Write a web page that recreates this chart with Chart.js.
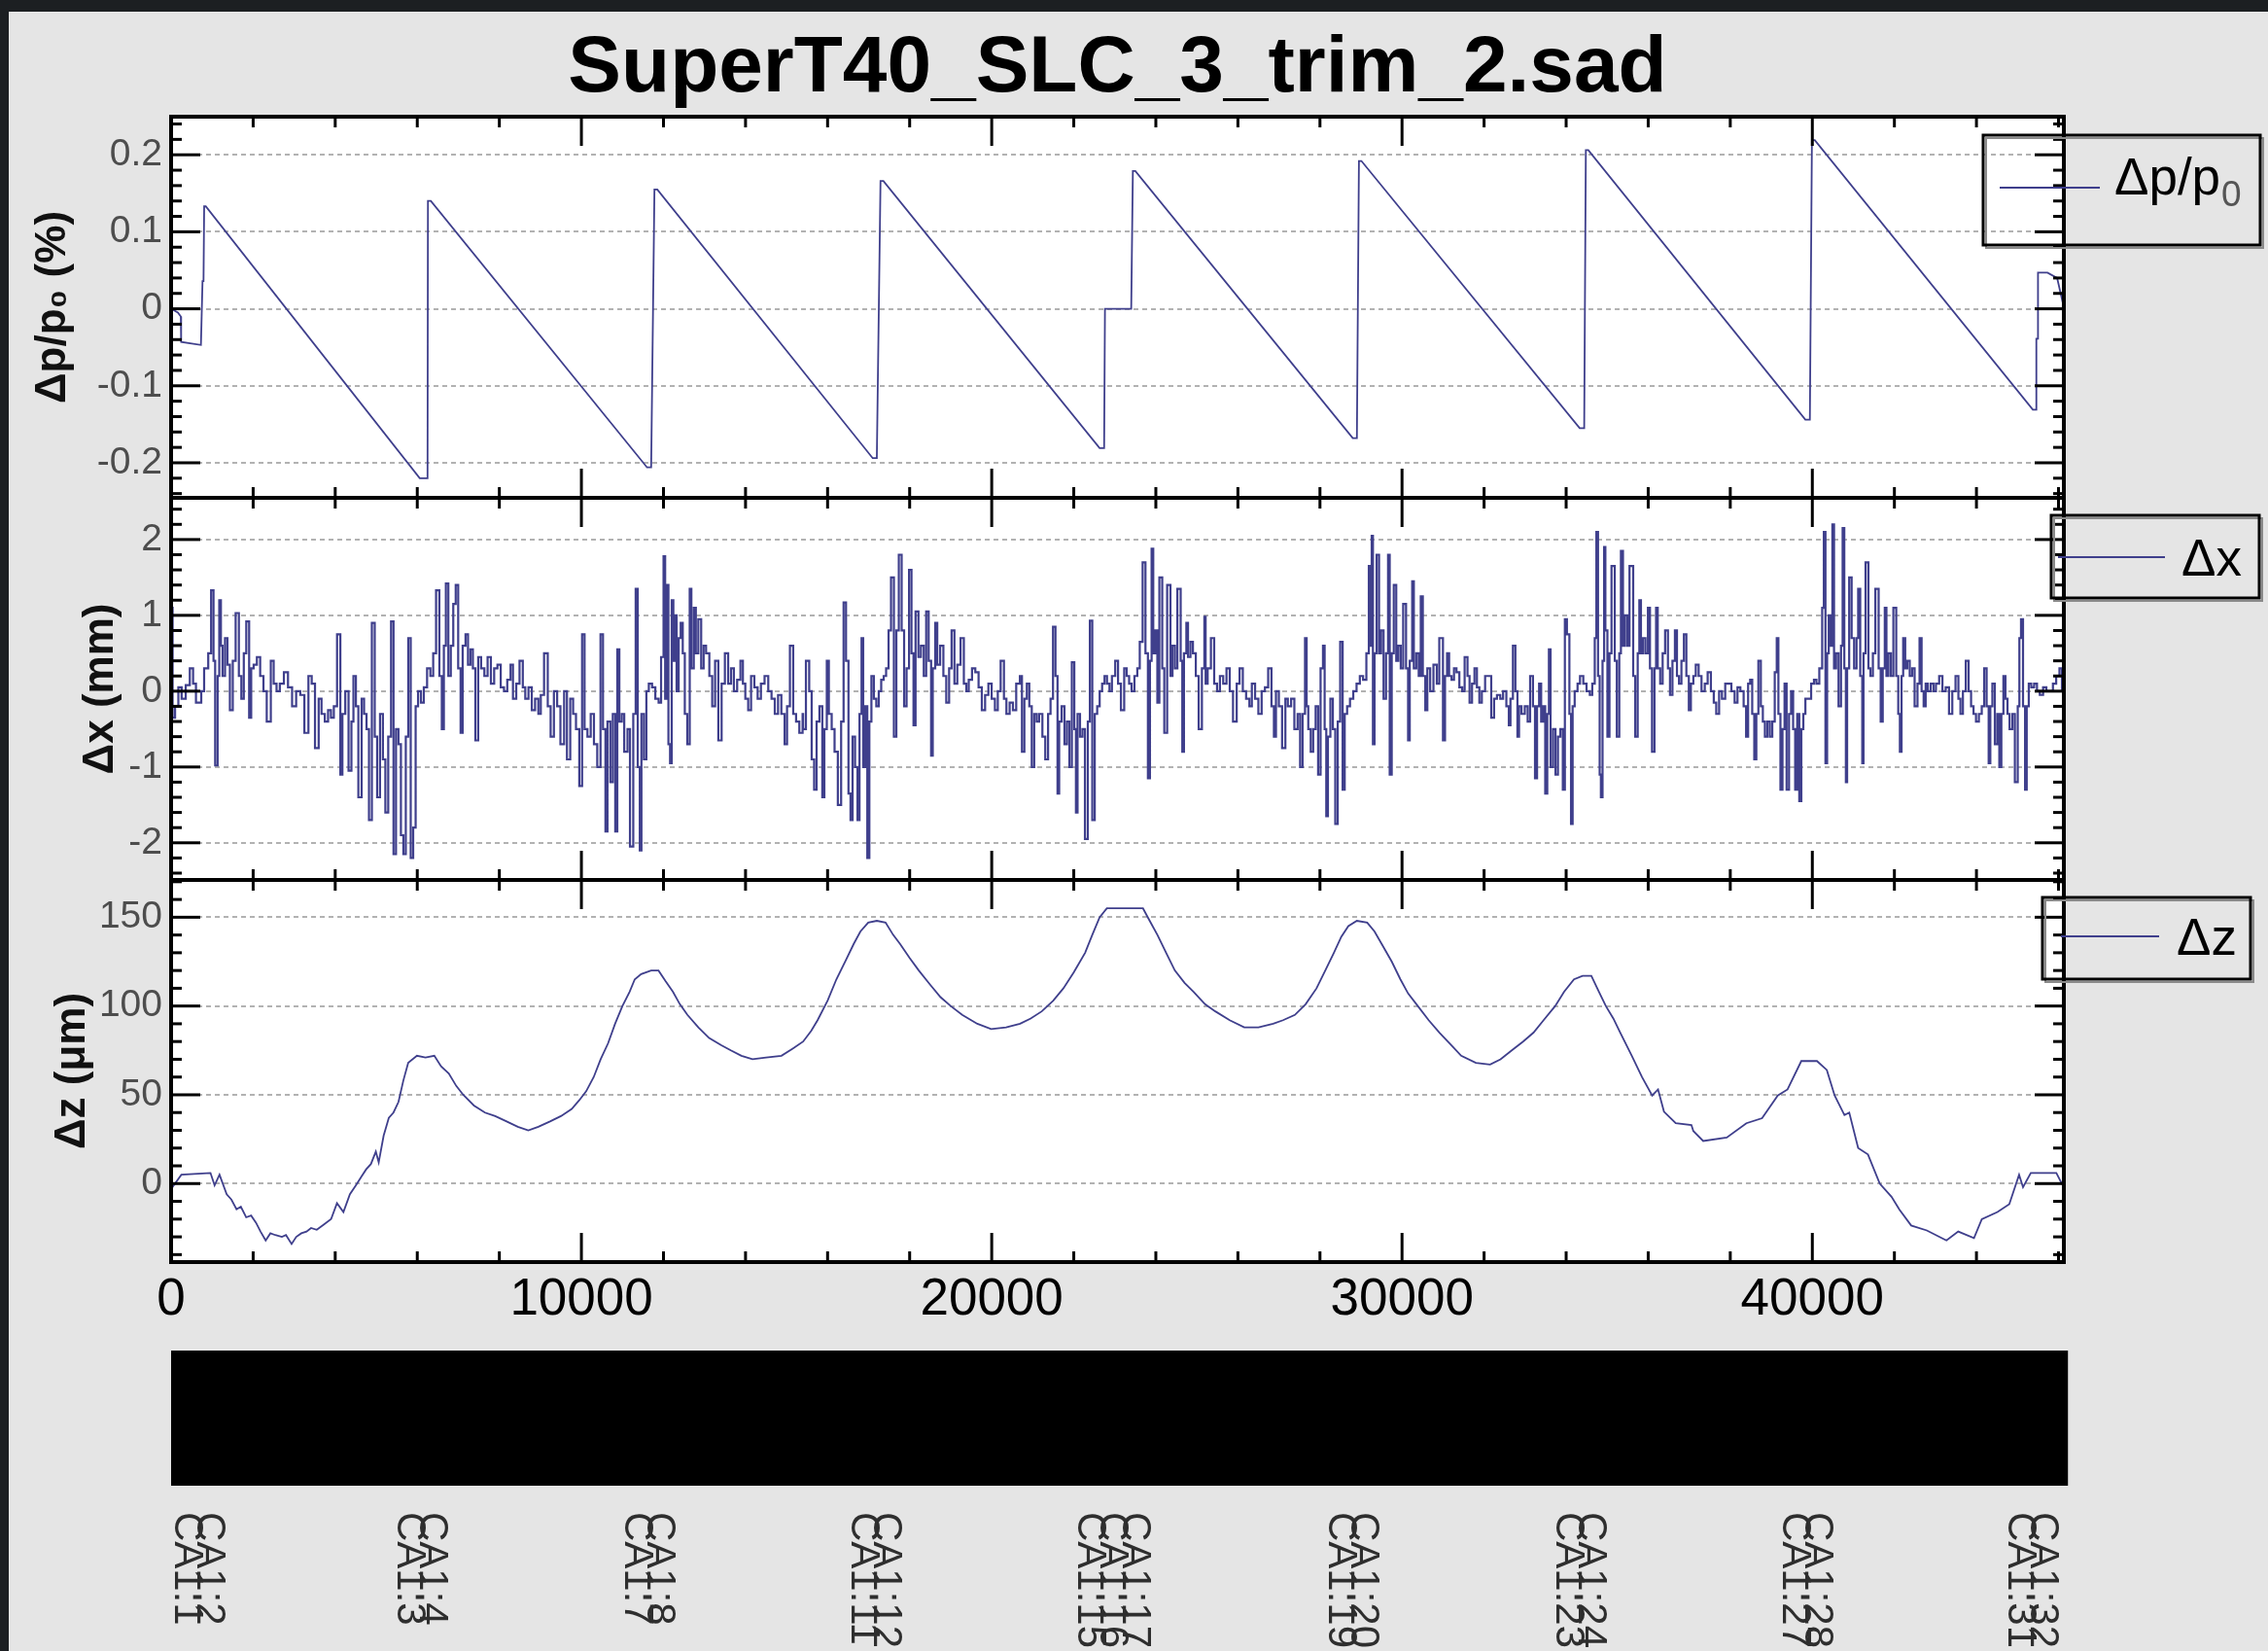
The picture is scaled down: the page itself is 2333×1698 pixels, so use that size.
<!DOCTYPE html>
<html>
<head>
<meta charset="utf-8">
<script src="https://cdn.jsdelivr.net/npm/chart.js@4.4.1/dist/chart.umd.min.js"></script>
<style>
  html, body { margin: 0; padding: 0; background: #1c1f22; }
  #page { position: absolute; left: 0; top: 0; width: 2333px; height: 1698px; overflow: hidden; }
  #panel { position: absolute; left: 9px; top: 12px; right: 0; bottom: 0; background: #e5e5e5; }
  canvas { position: absolute; left: 0; top: 0; }
</style>
</head>
<body>
<div id="page">
  <div id="panel"></div>
  <canvas id="dpChart" width="2333" height="1698"></canvas>
  <canvas id="dxChart" width="2333" height="1698"></canvas>
  <canvas id="dzChart" width="2333" height="1698"></canvas>
</div>
<script>
const plotTitle = "SuperT40_SLC_3_trim_2.sad";
const sMax = 46130;          // end of the x range (m)
const latticeEnd = 46230;    // end of the element bar
const xTickLabels = [0, 10000, 20000, 30000, 40000];
const xTickStep = 10000;
const xMinorStep = 2000;
const lineColor = "#3f3f8c";

// Δp/p0 (%) vs s (m)
const dpPoints = [
  [0, 0], [165, -0.005], [237, -0.01], [245, -0.043], [727, -0.047], [766, 0.036], [790, 0.036], [806, 0.133], [845, 0.133],
  [6060, -0.22], [6200, -0.22], [6250, -0.22], [6260, 0.14], [6330, 0.14],
  [11600, -0.206], [11700, -0.206], [11780, 0.155], [11850, 0.155],
  [17100, -0.194], [17200, -0.194], [17290, 0.166], [17360, 0.166],
  [22630, -0.181], [22740, -0.181], [22760, 0.0], [23400, 0.0], [23440, 0.179], [23500, 0.179],
  [28800, -0.168], [28900, -0.168], [28950, 0.192], [29010, 0.192],
  [34330, -0.155], [34440, -0.155], [34480, 0.206], [34540, 0.206],
  [39830, -0.144], [39940, -0.144], [39990, 0.219], [40060, 0.219],
  [45375, -0.131], [45454, -0.131], [45460, -0.039], [45493, -0.039], [45500, 0.047], [45730, 0.047], [45966, 0.04], [46125, 0.003]
];

// Δx (mm) vs s (m)
const dxPoints = [
  [0,0],[37,1.1],[97,-0.35],[177,-0.2],[257,0.05],[357,-0.1],[456,0.08],[536,0.3],[606,0.1],[735,-0.15],[805,0],
  [905,0.3],[975,0.5],[1034,1.33],[1074,0.4],[1134,-0.98],[1174,0.2],[1214,1.2],[1254,0.6],[1314,0.2],[1373,0.7],
  [1433,0.35],[1503,-0.25],[1573,0.4],[1652,1.03],[1712,0.2],[1772,-0.1],[1832,0.5],[1902,0.92],[1952,-0.35],[2012,0.3],
  [2091,0.35],[2171,0.45],[2251,0.2],[2331,0],[2430,-0.4],[2500,0.4],[2570,0.1],[2650,0],[2749,0.1],[2849,0.25],
  [2949,0.05],[3048,-0.2],[3148,0],[3248,-0.05],[3347,-0.55],[3427,0.2],[3507,0.1],[3597,-0.75],[3666,-0.1],[3746,-0.3],
  [3826,-0.4],[3896,-0.25],[3966,-0.35],[4045,-0.2],[4125,0.75],[4175,-1.1],[4245,-0.3],[4325,0],[4395,-1.05],[4444,-0.4],
  [4504,0.2],[4564,-0.2],[4644,-1.4],[4703,-0.1],[4763,-0.3],[4823,-0.5],[4893,-1.7],[4963,0.9],[5022,-0.6],[5092,-1.4],
  [5162,-0.3],[5222,-0.9],[5292,-1.6],[5361,-0.6],[5421,0.92],[5481,-2.15],[5541,-0.5],[5601,-0.7],[5661,-1.9],[5720,-2.15],
  [5780,-0.6],[5840,0.7],[5900,-2.2],[5960,-1.8],[6019,-0.2],[6089,0],[6159,-0.15],[6239,0.05],[6319,0.3],[6388,0.2],
  [6458,0.5],[6538,1.33],[6598,0.2],[6648,-0.5],[6697,0.6],[6757,1.42],[6817,0.2],[6877,0.6],[6937,1.15],[6997,1.4],
  [7056,0.3],[7106,-0.55],[7176,0.6],[7236,0.75],[7296,0.35],[7355,0.55],[7415,0.3],[7485,-0.65],[7555,0.45],[7635,0.3],
  [7714,0.2],[7794,0.45],[7874,0.1],[7954,0.3],[8034,0.35],[8113,0.05],[8193,0],[8273,0.15],[8332,0.35],[8412,-0.1],
  [8492,0.1],[8572,0.4],[8632,0.05],[8711,-0.1],[8791,0.05],[8871,-0.25],[8951,-0.1],[9010,-0.3],[9090,-0.05],[9180,0.5],
  [9250,-0.2],[9330,-0.6],[9409,0],[9489,-0.2],[9579,-0.7],[9648,0],[9728,-0.9],[9798,-0.1],[9868,-0.3],[9948,-0.5],
  [10017,-1.25],[10077,0.75],[10147,-0.5],[10227,-0.6],[10306,-0.3],[10386,-0.7],[10466,-1.0],[10526,0.75],[10586,-0.5],[10635,-1.85],
  [10705,-0.4],[10765,-1.2],[10825,-0.3],[10875,-1.85],[10925,0.55],[10984,-0.4],[11044,-0.3],[11124,-0.8],[11184,-0.5],[11264,-2.05],
  [11323,-0.3],[11373,1.35],[11423,-1.0],[11463,-2.1],[11523,-0.3],[11583,-0.9],[11643,0],[11722,0.1],[11802,0.05],[11882,-0.1],
  [11942,-0.15],[12002,0.45],[12041,1.78],[12081,-0.1],[12121,1.4],[12161,-0.7],[12201,-0.95],[12241,1.2],[12281,0.4],[12320,1.0],
  [12370,0],[12420,0.7],[12470,0.9],[12520,0.5],[12580,-0.3],[12640,-0.7],[12680,1.35],[12739,0.3],[12789,1.1],[12849,0.5],
  [12919,0.95],[12979,0.3],[13038,0.6],[13118,0.5],[13188,0.2],[13258,-0.2],[13337,0.4],[13417,-0.65],[13497,0.1],[13577,0.5],
  [13647,0.1],[13716,0.3],[13796,0],[13876,0.15],[13936,0.4],[13995,0.1],[14065,-0.1],[14135,-0.25],[14215,0.2],[14295,0.05],
  [14375,-0.1],[14464,0.1],[14554,0.2],[14634,0],[14713,-0.1],[14793,-0.3],[14873,-0.05],[14953,-0.3],[15012,-0.7],[15082,-0.2],
  [15162,0.6],[15232,-0.3],[15311,-0.4],[15391,-0.55],
  [15403,-0.3],[15472,-0.5],[15552,0.4],[15612,0],[15672,-0.9],[15732,-1.3],[15801,-0.4],[15871,-0.2],[15921,-1.4],[15981,-0.5],
  [16031,0.4],[16100,-0.3],[16170,-0.5],[16250,-0.8],[16330,-1.5],[16390,-0.4],[16449,1.17],[16509,0.4],[16559,-1.35],[16609,-1.7],
  [16669,-0.6],[16729,-1.0],[16778,-1.7],[16828,-0.3],[16868,0.7],[16918,-1.0],[16968,-0.2],[17018,-2.2],[17068,-0.4],[17127,0.2],
  [17187,-0.1],[17247,-0.2],[17307,0],[17367,0.15],[17426,0.2],[17486,0.3],[17546,0.8],[17616,1.5],[17676,-0.6],[17736,0.8],
  [17805,1.8],[17865,0.8],[17925,-0.2],[17985,0.3],[18045,1.6],[18094,0.5],[18144,-0.45],[18214,1.05],[18274,0.45],[18344,0.6],
  [18403,0.2],[18463,1.05],[18523,0.4],[18563,-0.85],[18623,0.3],[18673,0.9],[18743,0.35],[18822,0.6],[18892,0.2],[18962,-0.15],
  [19022,0.3],[19091,0.8],[19161,0.1],[19241,0.35],[19321,0.7],[19381,0.1],[19440,0],[19520,0.15],[19600,0.3],[19680,0.25],
  [19759,0.05],[19839,-0.25],[19919,-0.05],[19999,0.1],[20078,-0.1],[20148,-0.25],[20218,0],[20298,0.4],[20358,-0.1],[20437,-0.3],
  [20517,-0.15],[20597,-0.25],[20687,0.1],[20737,0.2],[20796,-0.8],[20856,-0.1],[20916,0.1],[20976,-0.2],[21036,-1.0],[21095,-0.3],
  [21155,-0.4],[21235,-0.3],[21305,-0.6],[21374,-0.9],[21434,-0.3],[21494,-0.1],[21554,0.85],[21604,0.2],[21644,-1.35],[21704,-0.4],
  [21773,-0.2],[21833,-0.7],[21893,-0.4],[21953,-1.0],[22013,0.38],[22053,-0.5],[22092,-1.6],[22152,-0.3],[22212,-0.6],[22272,-0.5],
  [22342,-1.95],[22392,-0.4],[22451,0.93],[22511,-1.7],[22571,-0.3],[22631,-0.2],[22691,0],[22750,0.1],[22810,0.2],[22870,0.1],
  [22930,0],[23010,0.2],[23079,0.4],[23149,0.1],[23229,-0.25],[23289,0.3],[23349,0.2],[23408,0.1],[23478,0],[23548,0.2],
  [23608,0.3],[23678,0.65],[23747,1.7],[23807,0.5],[23857,-1.15],[23897,0.4],[23937,1.88],[23987,0.5],[24037,0.8],[24086,-0.15],
  [24156,1.5],[24206,0.3],[24276,-0.55],[24356,1.4],[24406,0.2],[24465,0.6],[24525,0.3],[24605,1.35],[24645,0.4],[24685,-0.8],
  [24744,0.5],[24784,0.9],[24844,0.45],[24904,0.65],[24974,0.5],[25044,0.2],[25123,-0.5],[25183,0.3],[25213,0.98],[25263,0.1],
  [25342,0.3],[25422,0.7],[25492,0.1],[25562,0],[25642,0.2],[25722,0.1],[25801,0.3],[25881,0],[25971,-0.4],[26041,0.1],
  [26120,0.3],[26200,0],[26280,-0.1],[26340,-0.2],[26419,0.1],[26499,-0.1],[26579,-0.3],[26659,0],[26738,0.05],[26818,0.3],
  [26878,-0.2],[26928,-0.6],[26998,0],[27077,-0.2],[27157,-0.75],[27217,-0.1],[27297,-0.2],[27376,-0.1],[27456,-0.5],[27516,-0.3],
  [27576,-1.0],[27636,-0.3],[27675,0.7],[27715,-0.2],[27775,-0.5],[27835,-0.8],[27895,-0.5],[27955,-0.2],[28015,-1.1],[28074,0.3],
  [28114,0.6],[28154,-0.5],[28194,-1.65],[28254,-0.6],[28314,-0.1],[28373,-0.5],[28433,-1.75],[28493,-0.4],[28553,0.65],[28603,-1.3],
  [28662,-0.3],[28732,-0.2],[28812,-0.1],[28892,0],[28972,0.1],[29051,0.2],[29131,0.15],[29191,0.5],[29221,1.65],[29261,0.6],
  [29291,2.05],[29330,-0.7],[29380,0.5],[29440,1.8],[29490,0.5],[29550,0.8],[29610,-0.1],[29660,0.5],[29700,1.8],[29749,-1.1],
  [29799,0.5],[29859,1.4],[29909,0.4],[29969,0.6],[30028,0.3],[30098,1.15],[30148,0.3],[30188,-0.65],[30248,0.4],[30288,1.45],
  [30347,0.3],[30407,0.5],[30457,0.2],[30507,1.25],[30567,0.2],[30617,-0.25],[30686,0.3],[30766,0],[30826,0.35],
  [30848,0.35],[30908,0.1],[30998,0.7],[31048,-0.65],[31098,0.2],[31148,0.5],[31207,0.2],[31267,0.15],[31327,0.3],[31397,0.25],
  [31467,0.05],[31526,0],[31596,0.45],[31646,0.2],[31706,-0.15],[31766,0.1],[31825,0.3],[31885,0.05],[31945,-0.15],[32025,0],
  [32105,0.2],[32174,0.2],[32244,-0.35],[32314,-0.1],[32394,-0.05],[32463,-0.1],[32543,0],[32603,-0.2],[32643,-0.45],[32703,-0.1],
  [32763,0.6],[32813,0],[32852,-0.6],[32912,-0.2],[32992,-0.3],[33062,-0.2],[33122,-0.4],[33191,0.2],[33241,-0.2],[33291,-1.15],
  [33341,-0.2],[33391,0.1],[33441,-0.4],[33490,-0.2],[33540,-1.35],[33580,-0.3],[33620,0.55],[33680,-1.0],[33740,-0.5],[33800,-1.1],
  [33859,-0.6],[33919,-0.5],[33969,-1.3],[34019,0.95],[34079,0.75],[34119,-0.3],[34158,-1.75],[34208,-0.2],[34278,0],[34338,0.1],
  [34418,0.2],[34497,0.1],[34577,0],[34637,-0.05],[34697,0.1],[34737,0.7],[34777,2.1],[34817,0.2],[34847,-1.1],[34887,-1.4],
  [34926,0.4],[34956,1.9],[35006,0.8],[35056,-0.6],[35106,0.5],[35185,1.65],[35235,0.4],[35295,-0.6],[35335,0.5],[35385,1.85],
  [35435,0.6],[35494,1.0],[35544,0.6],[35634,1.65],[35684,0.2],[35744,-0.6],[35784,0.5],[35823,1.2],[35873,0.5],[35933,0.7],
  [35993,0.5],[36043,1.1],[36093,0.3],[36153,-0.8],[36192,0.3],[36232,1.1],[36292,0.3],[36352,0.1],[36412,0.5],[36481,0.8],
  [36531,0.3],[36591,-0.05],[36651,0.4],[36701,0.8],[36751,0.2],[36810,0.1],[36870,0.4],[36930,0.75],[36990,0.2],[37040,-0.25],
  [37100,0.1],[37159,0.2],[37229,0.35],[37299,0.2],[37379,0],[37449,0.1],[37528,0.25],[37598,0],[37658,-0.15],[37728,-0.3],
  [37797,0],[37877,-0.1],[37947,0.1],[38027,0.1],[38106,0],[38176,-0.15],[38246,0.05],[38326,0],[38386,-0.2],[38435,-0.6],
  [38485,0.1],[38535,0.15],[38585,-0.3],[38635,-0.9],[38685,-0.3],[38745,0.4],[38794,-0.2],[38844,-0.4],[38904,-0.6],[38964,-0.4],
  [39024,-0.6],[39084,-0.4],[39133,0.25],[39173,0.7],[39223,-0.3],[39273,-1.3],[39323,-0.5],[39373,0.1],[39432,-1.3],[39482,-0.3],
  [39532,0],[39582,-0.5],[39632,-1.3],[39682,-0.3],[39732,-1.45],[39781,-0.5],[39831,-0.3],[39901,-0.1],[39971,-0.1],[40040,0.1],
  [40100,0.15],[40170,0.1],[40240,0.3],[40280,1.1],[40320,2.1],[40360,-0.95],[40400,0.5],[40449,1.0],[40489,0.6],[40529,2.2],
  [40579,0.3],[40639,0.5],[40699,-0.2],[40739,0.6],[40779,2.15],[40818,0.3],[40848,-1.2],[40898,0.3],[40958,1.5],[41018,0.7],
  [41078,0.3],[41117,0.7],[41167,1.35],[41217,0.2],[41247,-0.95],[41297,0.5],[41367,1.7],[41416,0.3],[41476,0.2],[41536,0.5],
  [41616,1.35],[41666,0.3],[41716,-0.4],[41766,0.3],[41806,1.1],[41855,0.2],[41915,0.5],[41975,0.2],[42045,1.1],[42094,0.2],
  [42134,-0.3],[42174,-0.8],[42214,0.2],[42264,0.7],[42314,0.3],[42374,0.4],[42433,0.2],[42493,0.3],[42563,-0.2],[42613,0.1],
  [42663,0.7],[42713,0],[42762,-0.2],[42812,0.1],[42882,0],[42952,0.1],[43012,0],[43091,0.1],[43171,0.2],[43251,0],
  [43331,0.05],[43411,-0.3],[43490,0],[43560,0.2],[43610,-0.1],[43670,-0.3],[43740,0],[43809,0.4],[43869,0],[43929,-0.2],
  [43989,-0.3],[44059,-0.4],[44129,-0.3],[44188,-0.2],[44248,0.3],[44298,-0.2],[44338,-0.95],[44388,-0.2],[44448,0.1],[44507,-0.7],
  [44557,-0.3],[44607,-1.0],[44657,-0.3],[44707,0.2],[44757,-0.1],[44807,-0.3],[44876,-0.5],[44936,-0.3],[45006,-1.2],[45046,-0.2],
  [45086,0.7],[45135,0.95],[45185,-0.2],[45225,-1.3],[45275,-0.2],[45335,0.1],[45405,0.05],[45475,0.1],[45544,0],[45624,-0.05],
  [45704,0.05],[45784,0],[45864,0],[45943,0.1],[46023,0.2],[46083,0.3],[46130,0]
];

// Δz (µm) vs s (m)
const dzPoints = [
  [0,0],[50,-1.5],[250,5],[960,6],[1060,-1],[1180,5],[1355,-6],[1470,-9],[1595,-14.5],[1700,-13],[1830,-19],[1950,-18],[2068,-22],
  [2180,-27],[2305,-32],[2420,-28],[2541,-29],[2700,-30],[2800,-29],[2937,-34],[3050,-30],[3174,-28],[3300,-27],[3411,-25],
  [3550,-26],[3727,-23],[3900,-20],[4043,-11],[4200,-16],[4358,-6],[4517,-0.5],[4640,4],[4754,8],[4870,11],[4990,18],[5060,12],
  [5180,27],[5306,37],[5420,40],[5542,46],[5660,58],[5779,68],[5992,72],[6200,71],[6415,72],[6580,66],[6768,62],[6950,55],[7120,50],
  [7380,44],[7649,40],[7900,38],[8178,35],[8450,32],[8706,30],[8950,32],[9235,35],[9500,38],[9764,42],[9950,47],
  [10116,52],[10300,60],[10469,70],[10650,79],[10821,90],[11000,100],[11174,108],[11300,115],[11456,118],[11700,120],[11879,120],
  [12050,114],[12231,108],[12400,101],[12584,95],[12850,88],[13113,82],[13400,78],[13641,75],[13900,72],
  [14170,70],[14500,71],[14875,72],[15150,76],[15404,80],[15600,86],[15756,92],[16000,103],[16214,115],[16450,126],[16637,135],
  [16800,142],[16990,147],[17200,148],[17413,147],[17600,140],[17765,135],[18000,127],[18223,120],[18500,112],
  [18752,105],[19000,100],[19281,95],[19650,90],[19986,87],[20350,88],[20691,90],[20950,93],[21220,97],[21500,103],[21748,110],
  [22000,119],[22277,130],[22450,140],[22630,150],[22806,155],[23687,155],[23850,148],
  [24040,140],[24250,130],[24463,120],[24700,113],[24921,108],[25200,101],[25450,97],[25800,92],[26155,88],[26500,88],[26860,90],
  [27100,92],[27388,95],[27650,101],[27917,110],[28150,121],[28340,130],[28520,139],[28692,145],[28900,148],
  [29151,147],[29330,142],[29503,135],[29750,125],[29961,115],[30150,107],[30384,100],[30650,92],[30913,85],[31200,78],[31442,72],
  [31800,68],[32147,67],[32400,70],[32675,75],[32950,80],[33204,85],[33450,92],[33733,100],[33950,108],
  [34191,115],[34400,117],[34614,117],[34800,108],[34967,100],[35150,93],[35319,85],[35600,72],[35848,60],
  [36097,49.6],[36240,53],[36384,40.5],[36671,34],[37053,33],[37100,29.6],[37340,24],[37914,25.9],[38392,34],[38775,36.8],
  [39157,49.6],[39396,53],[39731,69],[40113,69],[40353,64],[40544,49.6],[40783,38.6],[40900,40],[41117,20],[41356,16.4],
  [41643,0],[41930,-7.4],[42122,-14.6],[42409,-23.6],[42791,-26.4],[43269,-32],[43556,-27],[43940,-30.7],[44130,-20],
  [44512,-16],[44800,-11.6],[45039,5],[45135,-2],[45325,6],[45947,6],[46090,-0.5]
];

// element labels under the lattice bar
const cavityNames = ["CA1:1","CA1:2","CA1:3","CA1:4","CA1:7","CA1:8","CA1:11","CA1:12","CA1:15","CA1:16","CA1:17",
                     "CA1:19","CA1:20","CA1:23","CA1:24","CA1:27","CA1:28","CA1:31","CA1:32"];
const cavityPos = [95, 640, 5519, 6063, 11061, 11606, 16580, 17125, 22098, 22643, 23188,
                   28209, 28754, 33752, 34297, 39294, 39839, 44789, 45334];

Chart.defaults.font.family = '"Liberation Sans", Arial, sans-serif';

const seg = (ctx, x1, y1, x2, y2) => { ctx.beginPath(); ctx.moveTo(x1, y1); ctx.lineTo(x2, y2); ctx.stroke(); };

const framePlugin = {
  id: "frame",
  beforeDraw(chart) {
    const { ctx, chartArea: a } = chart;
    ctx.save();
    ctx.fillStyle = "#fff";
    ctx.fillRect(a.left, a.top, a.right - a.left, a.bottom - a.top);
    ctx.restore();
  },
  afterDatasetsDraw(chart, args, o) {
    const { ctx, chartArea: a } = chart;
    const xs = chart.scales.x, ys = chart.scales.y;
    ctx.save();
    ctx.strokeStyle = "#000";
    ctx.lineWidth = 3;
    // inward ticks on left/right
    const k0 = Math.ceil(ys.min / o.yMinor - 1e-9);
    for (let k = k0; k * o.yMinor <= ys.max + 1e-9; k++) {
      const v = k * o.yMinor;
      const r = v / o.yMajor;
      const len = Math.abs(r - Math.round(r)) < 1e-6 ? 30 : 11;
      const py = ys.getPixelForValue(v);
      seg(ctx, a.left, py, a.left + len, py);
      seg(ctx, a.right, py, a.right - len, py);
    }
    // inward ticks on top/bottom
    for (let v = 0; v <= xs.max; v += xMinorStep) {
      const len = v % xTickStep === 0 ? 30 : 11;
      const px = xs.getPixelForValue(v);
      seg(ctx, px, a.top, px, a.top + len);
      seg(ctx, px, a.bottom, px, a.bottom - len);
    }
    ctx.lineWidth = 4;
    ctx.strokeRect(a.left, a.top, a.right - a.left, a.bottom - a.top);
    ctx.restore();
  },
  afterDraw(chart, args, o) {
    const { ctx } = chart;
    const lg = o.legend;
    ctx.save();
    // legend box
    const [bx1, by1, bx2, by2] = lg.box;
    ctx.strokeStyle = "#8a8a8a";
    ctx.lineWidth = 2;
    ctx.strokeRect(bx1 + 3, by1 + 3, bx2 - bx1, by2 - by1);
    ctx.strokeStyle = "#000";
    ctx.lineWidth = 3;
    ctx.strokeRect(bx1, by1, bx2 - bx1, by2 - by1);
    ctx.strokeStyle = lineColor;
    ctx.lineWidth = 2;
    seg(ctx, lg.line[0], lg.line[2], lg.line[1], lg.line[2]);
    ctx.fillStyle = "#000";
    ctx.textAlign = "left";
    ctx.textBaseline = "alphabetic";
    ctx.font = '53px "Liberation Sans"';
    ctx.fillText(lg.text, lg.tx, lg.base);
    if (lg.sub) {
      const w = ctx.measureText(lg.text).width;
      ctx.font = '37px "Liberation Sans"';
      ctx.fillStyle = "#555";
      ctx.fillText(lg.sub, lg.tx + w + 1, lg.base + 12);
    }
    // figure title
    if (o.title) {
      const a = chart.chartArea;
      ctx.fillStyle = "#000";
      ctx.textAlign = "center";
      ctx.font = 'bold 82px "Liberation Sans"';
      ctx.fillText(plotTitle, (a.left + a.right) / 2, 94);
    }
    // lattice bar and element names
    if (o.lattice) {
      const xs = chart.scales.x;
      const x0 = xs.getPixelForValue(0), x1 = xs.getPixelForValue(latticeEnd);
      ctx.fillStyle = "#000";
      ctx.fillRect(x0, 1389, x1 - x0, 139);
      ctx.fillStyle = "#2e2e2e";
      ctx.font = '42px "Liberation Sans"';
      ctx.textAlign = "left";
      ctx.textBaseline = "alphabetic";
      cavityPos.forEach((s, i) => {
        ctx.save();
        ctx.translate(xs.getPixelForValue(s), 1555);
        ctx.rotate(Math.PI / 2);
        ctx.fillText(cavityNames[i], 0, 0);
        ctx.restore();
      });
    }
    ctx.restore();
  }
};

const makeChart = (id, points, cfg) => new Chart(document.getElementById(id), {
  type: "line",
  data: {
    datasets: [{
      data: points.map(([x, y]) => ({ x, y })),
      borderColor: lineColor,
      borderWidth: cfg.lineWidth,
      pointRadius: 0,
      stepped: cfg.stepped,
      fill: false
    }]
  },
  options: {
    responsive: false,
    animation: false,
    devicePixelRatio: 1,
    parsing: false,
    events: [],
    layout: { padding: { left: 0, right: 210, top: cfg.top, bottom: cfg.bottom } },
    plugins: {
      legend: { display: false },
      tooltip: { enabled: false },
      frame: cfg.frame
    },
    scales: {
      x: {
        type: "linear",
        min: 0,
        max: sMax,
        display: cfg.showX,
        grid: { display: false },
        border: { display: false },
        afterBuildTicks: (s) => { s.ticks = xTickLabels.map((v) => ({ value: v })); },
        ticks: {
          autoSkip: false,
          maxRotation: 0,
          padding: 0,
          color: "#000",
          font: { size: 53 },
          callback: (v) => String(v)
        },
        afterFit: (s) => { s.height = cfg.showX ? 400 : 0; }
      },
      y: {
        min: cfg.yMin,
        max: cfg.yMax,
        grid: { color: "#b2b2b2", lineWidth: 2, drawTicks: false },
        border: { display: false, dash: [5, 4] },
        ticks: {
          stepSize: cfg.frame.yMajor,
          includeBounds: false,
          padding: 9,
          color: "#4d4d4d",
          font: { size: 39 },
          callback: (v) => String(Math.round(v * 100) / 100)
        },
        title: {
          display: true,
          text: cfg.yTitle,
          color: "#111",
          font: { size: 44, weight: "bold" },
          padding: { top: cfg.titlePad, bottom: 0 }
        },
        afterFit: (s) => { s.width = 176; }
      }
    }
  },
  plugins: [framePlugin]
});

makeChart("dpChart", dpPoints, {
  top: 120, bottom: 1186, yMin: -0.2455, yMax: 0.2495, showX: false, lineWidth: 1.8, stepped: false,
  yTitle: "Δp/p₀ (%)", titlePad: 28.6,
  frame: { yMajor: 0.1, yMinor: 0.02, title: true, lattice: false,
           legend: { box: [2040, 139, 2325, 252], line: [2057, 2160, 193], text: "Δp/p", sub: "0", tx: 2175, base: 200 } }
});

makeChart("dxChart", dxPoints, {
  top: 512, bottom: 793, yMin: -2.49, yMax: 2.55, showX: false, lineWidth: 2.2, stepped: "after",
  yTitle: "Δx (mm)", titlePad: 77.6,
  frame: { yMajor: 1, yMinor: 0.2, title: false, lattice: false,
           legend: { box: [2110, 530, 2324, 615], line: [2117, 2227, 573], text: "Δx", sub: "", tx: 2244, base: 592 } }
});

makeChart("dzChart", dzPoints, {
  top: 905, bottom: 0, yMin: -44.2, yMax: 171, showX: true, lineWidth: 1.8, stepped: false,
  yTitle: "Δz (μm)", titlePad: 48.6,
  frame: { yMajor: 50, yMinor: 10, title: false, lattice: true,
           legend: { box: [2101, 923, 2315, 1007], line: [2120, 2221, 963], text: "Δz", sub: "", tx: 2239, base: 982 } }
});
</script>
</body>
</html>
